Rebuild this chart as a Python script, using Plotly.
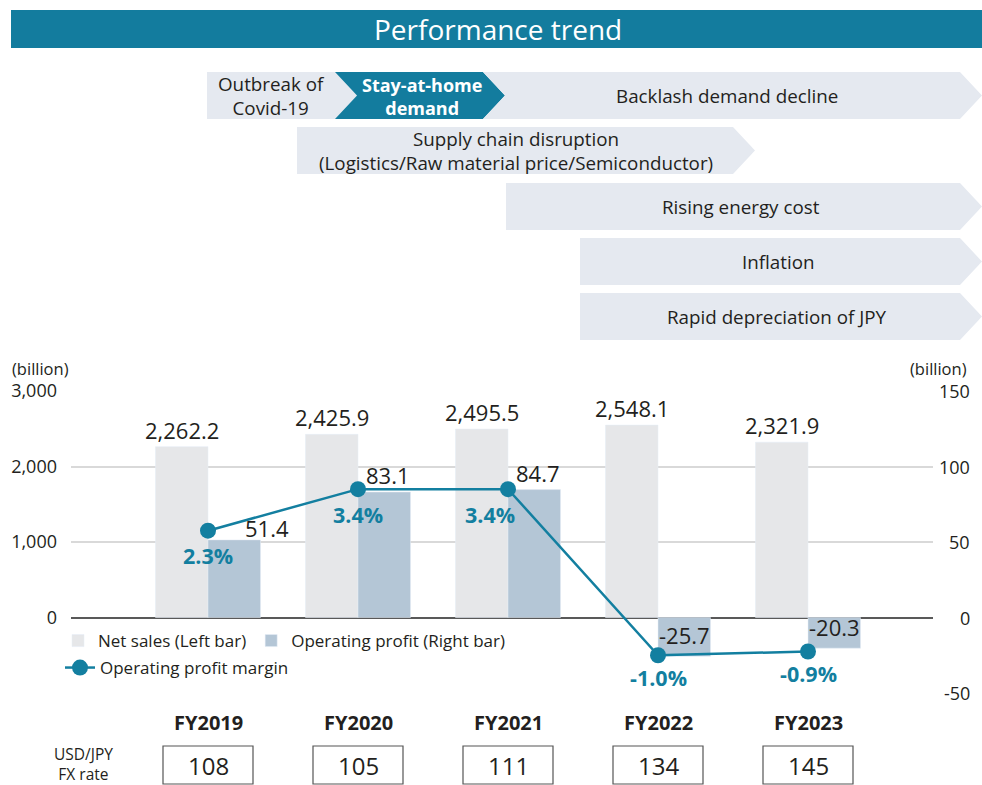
import plotly.graph_objects as go

# ---------------- data ----------------
fiscal_years = ["FY2019", "FY2020", "FY2021", "FY2022", "FY2023"]
net_sales = [2262.2, 2425.9, 2495.5, 2548.1, 2321.9]          # left axis, billion
op_profit = [51.4, 83.1, 84.7, -25.7, -20.3]                  # right axis, billion
op_margin = [2.3, 3.4, 3.4, -1.0, -0.9]                       # %
fx_rate = [108, 105, 111, 134, 145]                           # USD/JPY

left_ticks = [-1000, 0, 1000, 2000, 3000]
left_ticktext = ["", "0", "1,000", "2,000", "3,000"]
right_ticks = [-50, 0, 50, 100, 150]
right_ticktext = ["-50", "0", "50", "100", "150"]

events = [
    ("Outbreak of<br>Covid-19", "light"),
    ("<b>Stay-at-home<br>demand</b>", "dark"),
    ("Backlash demand decline", "light"),
    ("Supply chain disruption<br>(Logistics/Raw material price/Semiconductor)", "light"),
    ("Rising energy cost", "light"),
    ("Inflation", "light"),
    ("Rapid depreciation of JPY", "light"),
]

# ---------------- style ----------------
FONT = "Open Sans"
TEXT = "#231f20"
TEAL = "#137c9e"
LIGHT = "#e5e9f0"
SALES_C = "#e6e7e9"
PROFIT_C = "#b4c6d6"
LINE_C = "#137fa0"

W, H = 982, 785
ML, MR, MT, MB = 71, 49, 391, 92
PW = W - ML - MR
PH = H - MT - MB


def px(xp):
    return (xp - ML) / PW


def py(yp):
    return (H - MB - yp) / PH


xs = list(range(len(fiscal_years)))
BW = 0.35

fig = go.Figure()
fig.add_trace(go.Bar(
    x=xs, y=net_sales, name="Net sales (Left bar)", marker_color=SALES_C,
    width=BW, offset=-BW, yaxis="y", legend="legend", hoverinfo="skip"))
fig.add_trace(go.Bar(
    x=xs, y=op_profit, name="Operating profit (Right bar)", marker_color=PROFIT_C,
    width=BW, offset=0, yaxis="y2", legend="legend", hoverinfo="skip"))
fig.add_trace(go.Scatter(
    x=xs, y=op_margin, name="Operating profit margin", mode="lines+markers",
    line=dict(color=LINE_C, width=2.5), marker=dict(size=16, color=LINE_C),
    yaxis="y3", legend="legend2", hoverinfo="skip"))

shapes = []
annotations = []

# title bar
shapes.append(dict(type="rect", xref="paper", yref="paper", x0=px(11), x1=px(984),
                   y0=py(48), y1=py(10), fillcolor=TEAL, line_width=0, layer="below"))
annotations.append(dict(xref="paper", yref="paper", x=px(498), y=py(29),
                        text="Performance trend", showarrow=False,
                        font=dict(family=FONT, size=28, color="white"),
                        xanchor="center", yanchor="middle"))


def poly(points, color):
    path = "M " + " L ".join(f"{px(a):.5f},{py(b):.5f}" for a, b in points) + " Z"
    return dict(type="path", xref="paper", yref="paper", path=path,
                fillcolor=color, line_width=0, layer="below")


D = 22
banner_geo = [
    # (points, text centre x, text centre y)
    ([(207, 72), (335, 72), (335 + D, 95.5), (335, 119), (207, 119)], 271, 96),
    ([(335, 72), (483, 72), (483 + D, 95.5), (483, 119), (335, 119), (335 + D, 95.5)], 422, 96),
    ([(483, 72), (960, 72), (982, 95.5), (960, 119), (483, 119), (483 + D, 95.5)], 727, 96),
    ([(297, 127), (733, 127), (755, 150.5), (733, 174), (297, 174)], 516, 151),
    ([(506, 183), (960, 183), (982, 206.5), (960, 230), (506, 230)], 741, 207),
    ([(580, 238), (960, 238), (982, 261.5), (960, 285), (580, 285)], 778, 262),
    ([(580, 293), (960, 293), (982, 316.5), (960, 340), (580, 340)], 777, 317),
]
for (label, kind), (pts, tx, ty) in zip(events, banner_geo):
    shapes.append(poly(pts, TEAL if kind == "dark" else LIGHT))
    annotations.append(dict(xref="paper", yref="paper", x=px(tx), y=py(ty), text=label,
                            showarrow=False, xanchor="center", yanchor="middle",
                            font=dict(family=FONT, size=18 if kind == "dark" else 18.8,
                                      color="white" if kind == "dark" else TEXT)))

# axis unit labels
for xx in (40, 938):
    annotations.append(dict(xref="paper", yref="paper", x=px(xx), y=py(368), text="(billion)",
                            showarrow=False, xanchor="center", yanchor="middle",
                            font=dict(family=FONT, size=16.5, color=TEXT)))

# right-axis tick labels (right-aligned, placed through the y2 scale)
for tv, tt in zip(right_ticks, right_ticktext):
    annotations.append(dict(xref="paper", yref="y2", x=px(972), y=tv, text=tt,
                            showarrow=False, xanchor="right", yanchor="middle",
                            font=dict(family=FONT, size=18, color=TEXT)))

# value labels
for i, v in enumerate(net_sales):
    annotations.append(dict(x=i - BW / 2, y=v, xref="x", yref="y", text=f"{v:,.1f}",
                            showarrow=False, xanchor="center", yanchor="bottom", yshift=0,
                            font=dict(family=FONT, size=22, color=TEXT)))

profit_shift = {0: (33, -5)}
for i, v in enumerate(op_profit):
    dx, dy = profit_shift.get(i, (4, 0))
    if v >= 0:
        annotations.append(dict(x=i + BW / 2, y=v, xref="x", yref="y2", text=f"{v:.1f}",
                                showarrow=False, xanchor="center", yanchor="bottom",
                                xshift=dx, yshift=dy,
                                font=dict(family=FONT, size=22, color=TEXT)))
    else:
        annotations.append(dict(x=i + BW / 2, y=v, xref="x", yref="y2", text=f"{v:.1f}",
                                showarrow=False, xanchor="center", yanchor="bottom",
                                yshift=4,
                                font=dict(family=FONT, size=22, color=TEXT)))

margin_xshift = {2: -18}
for i, m in enumerate(op_margin):
    annotations.append(dict(x=i, y=m, xref="x", yref="y3", text=f"<b>{m:.1f}%</b>",
                            showarrow=False, xanchor="center", yanchor="middle",
                            xshift=margin_xshift.get(i, 0), yshift=-25 if m >= 0 else -22,
                            font=dict(family=FONT, size=21.5, color=LINE_C)))

# FY labels and FX boxes
for i, (fy, fx) in enumerate(zip(fiscal_years, fx_rate)):
    annotations.append(dict(x=i, y=py(722), xref="x", yref="paper", text=f"<b>{fy}</b>",
                            showarrow=False, xanchor="center", yanchor="middle",
                            font=dict(family=FONT, size=20, color=TEXT)))
    shapes.append(dict(type="rect", xref="x", yref="paper", x0=i - 0.3, x1=i + 0.3,
                       y0=py(784), y1=py(746), line=dict(color="#555555", width=1.2),
                       fillcolor="rgba(0,0,0,0)"))
    annotations.append(dict(x=i, y=py(765), xref="x", yref="paper", text=str(fx),
                            showarrow=False, xanchor="center", yanchor="middle",
                            font=dict(family=FONT, size=24, color=TEXT)))

annotations.append(dict(xref="paper", yref="paper", x=px(83), y=py(764),
                        text="USD/JPY<br>FX rate", showarrow=False,
                        xanchor="center", yanchor="middle",
                        font=dict(family=FONT, size=15.5, color=TEXT)))

fig.update_layout(
    width=W, height=H, autosize=False,
    margin=dict(l=ML, r=MR, t=MT, b=MB, pad=0, autoexpand=False),
    paper_bgcolor="white", plot_bgcolor="white",
    barmode="overlay",
    font=dict(family=FONT, color=TEXT),
    xaxis=dict(range=[-(208 - ML) / 150, 4 + (933 - 808) / 150], showticklabels=False,
               showgrid=False, zeroline=False, showline=False, fixedrange=True,
               automargin=False),
    yaxis=dict(range=[-1000, 3000], tickvals=left_ticks, ticktext=left_ticktext,
               showgrid=True, gridcolor="#d9d9d9", gridwidth=1.5,
               zeroline=True, zerolinecolor="#595959", zerolinewidth=1.5,
               showline=False, ticks="", ticklabelstandoff=13, automargin=False,
               tickfont=dict(family=FONT, size=18, color=TEXT)),
    yaxis2=dict(range=[-50, 150], tickvals=right_ticks, showticklabels=False,
                overlaying="y", side="right", showgrid=False, zeroline=False,
                showline=False, ticks="", automargin=False),
    yaxis3=dict(range=[-2, 6], overlaying="y", visible=False),
    legend=dict(orientation="h", x=px(58), y=py(641), xanchor="left", yanchor="middle",
                bgcolor="rgba(0,0,0,0)", font=dict(family=FONT, size=17, color=TEXT),
                itemclick=False, itemdoubleclick=False),
    legend2=dict(orientation="h", x=px(60), y=py(668), xanchor="left", yanchor="middle",
                 bgcolor="rgba(0,0,0,0)", font=dict(family=FONT, size=17, color=TEXT),
                 itemclick=False, itemdoubleclick=False),
    shapes=shapes,
    annotations=annotations,
    showlegend=True,
)

POST = (
    "document.documentElement.style.margin='0';"
    "document.body.style.margin='0';document.body.style.padding='0';"
    "document.documentElement.style.overflow='hidden';"
    "document.body.style.overflow='hidden';"
)

fig.write_html(
    "out.html",
    config={"displayModeBar": False, "responsive": False},
    post_script=POST,
)
